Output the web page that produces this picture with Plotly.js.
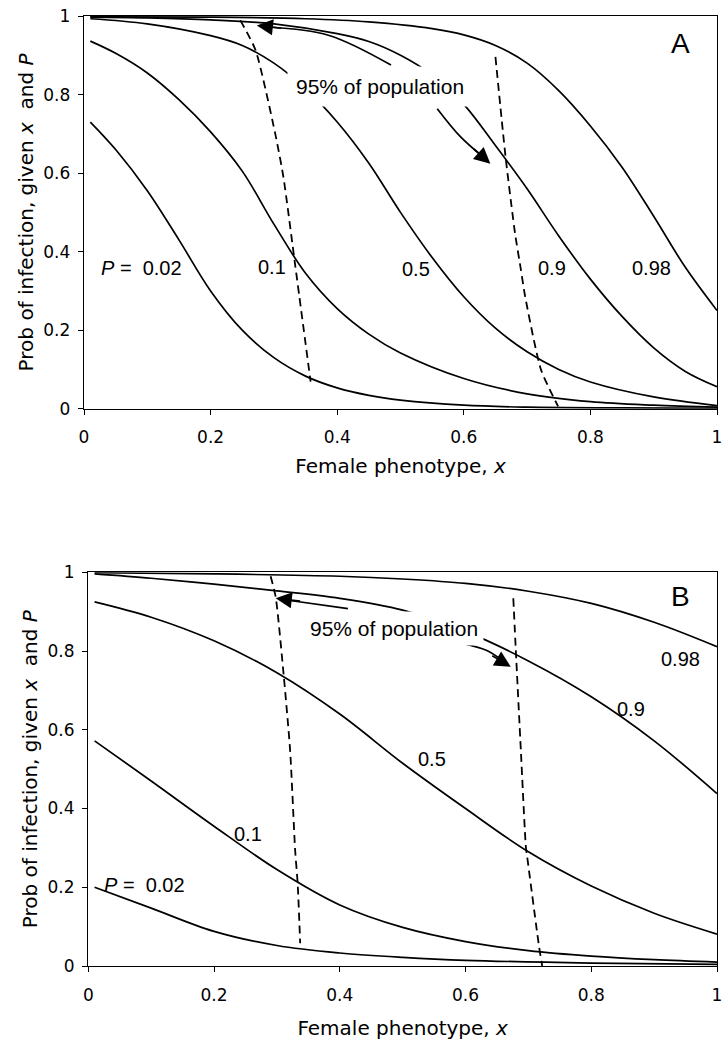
<!DOCTYPE html>
<html>
<head>
<meta charset="utf-8">
<script src="https://cdn.plot.ly/plotly-3.0.1.min.js"></script>
<style>html,body{margin:0;padding:0;background:#fff;}#chart{width:724px;height:1046px;}</style>
</head>
<body>
<div id="chart"></div>
<script>
// ---------- ticks and labels ----------
const tickVals = [0, 0.2, 0.4, 0.6, 0.8, 1];
const tickText = ["0", "0.2", "0.4", "0.6", "0.8", "1"];
const pLabels = ["0.02", "0.1", "0.5", "0.9", "0.98"];

// ---------- Panel A data ----------
const xA_002 = [0.01, 0.05, 0.1, 0.15, 0.2, 0.25, 0.3, 0.35, 0.4, 0.45, 0.5, 0.6, 0.7, 0.85, 1.0];
const yA_002 = [0.73, 0.66, 0.555, 0.43, 0.30, 0.20, 0.13, 0.083, 0.053, 0.034, 0.022, 0.009, 0.004, 0.002, 0.001];

const xA_01 = [0.01, 0.05, 0.1, 0.15, 0.2, 0.25, 0.3, 0.35, 0.4, 0.45, 0.5, 0.6, 0.7, 0.8, 0.9, 1.0];
const yA_01 = [0.936, 0.905, 0.855, 0.787, 0.705, 0.605, 0.47, 0.345, 0.255, 0.19, 0.142, 0.077, 0.038, 0.018, 0.009, 0.004];

const xA_05 = [0.01, 0.1, 0.2, 0.25, 0.3, 0.35, 0.4, 0.45, 0.5, 0.55, 0.6, 0.65, 0.7, 0.75, 0.8, 0.9, 1.0];
const yA_05 = [0.993, 0.98, 0.95, 0.925, 0.88, 0.815, 0.73, 0.625, 0.5, 0.385, 0.285, 0.205, 0.145, 0.10, 0.068, 0.03, 0.008];

const xA_09 = [0.01, 0.1, 0.2, 0.3, 0.4, 0.45, 0.5, 0.55, 0.6, 0.65, 0.7, 0.75, 0.8, 0.85, 0.9, 0.95, 1.0];
const yA_09 = [0.997, 0.995, 0.99, 0.98, 0.955, 0.935, 0.90, 0.85, 0.775, 0.67, 0.56, 0.44, 0.33, 0.235, 0.155, 0.095, 0.056];

const xA_098 = [0.01, 0.2, 0.35, 0.45, 0.55, 0.6, 0.65, 0.7, 0.75, 0.8, 0.85, 0.9, 0.95, 1.0];
const yA_098 = [0.998, 0.997, 0.993, 0.985, 0.968, 0.952, 0.925, 0.88, 0.81, 0.72, 0.615, 0.49, 0.36, 0.25];

// 95% boundaries (dashed)
const xA_lo = [0.247, 0.271, 0.302, 0.315, 0.334, 0.358];
const yA_lo = [0.989, 0.913, 0.701, 0.59, 0.361, 0.069];
const xA_hi = [0.650, 0.666, 0.681, 0.690, 0.697, 0.722, 0.749];
const yA_hi = [0.896, 0.641, 0.446, 0.356, 0.285, 0.099, 0.006];

// arrow shafts and tips
const xA_arrL = [0.485, 0.386, 0.292];
const yA_arrL = [0.875, 0.951, 0.972];
const tipA_L = [0.273, 0.976];
const xA_arrR = [0.558, 0.595, 0.629];
const yA_arrR = [0.764, 0.692, 0.643];
const tipA_R = [0.642, 0.624];

// label positions (A)
const labA_x = [0.091, 0.297, 0.524, 0.739, 0.896];
const labA_y = [0.358, 0.361, 0.357, 0.358, 0.358];

// ---------- Panel B data ----------
const xB_002 = [0.01, 0.1, 0.2, 0.3, 0.4, 0.5, 0.6, 0.8, 1.0];
const yB_002 = [0.20, 0.147, 0.088, 0.052, 0.033, 0.022, 0.0145, 0.0075, 0.004];

const xB_01 = [0.01, 0.1, 0.2, 0.3, 0.4, 0.5, 0.6, 0.7, 0.8, 0.9, 1.0];
const yB_01 = [0.572, 0.47, 0.355, 0.245, 0.155, 0.098, 0.062, 0.039, 0.025, 0.016, 0.010];

const xB_05 = [0.01, 0.1, 0.2, 0.3, 0.4, 0.5, 0.6, 0.7, 0.8, 0.9, 1.0];
const yB_05 = [0.925, 0.886, 0.826, 0.745, 0.64, 0.515, 0.40, 0.29, 0.203, 0.134, 0.081];

const xB_09 = [0.01, 0.1, 0.2, 0.3, 0.4, 0.5, 0.6, 0.7, 0.8, 0.9, 1.0];
const yB_09 = [0.996, 0.985, 0.97, 0.953, 0.934, 0.904, 0.85, 0.775, 0.684, 0.572, 0.438];

const xB_098 = [0.01, 0.2, 0.4, 0.5, 0.6, 0.7, 0.8, 0.9, 1.0];
const yB_098 = [0.999, 0.996, 0.99, 0.983, 0.972, 0.952, 0.921, 0.873, 0.811];

const xB_lo = [0.290, 0.298, 0.311, 0.321, 0.329, 0.333, 0.337];
const yB_lo = [0.99, 0.938, 0.735, 0.548, 0.294, 0.21, 0.058];
const xB_hi = [0.676, 0.680, 0.688, 0.696, 0.698, 0.717, 0.722];
const yB_hi = [0.934, 0.802, 0.548, 0.302, 0.278, 0.049, 0.0];

const xB_arrL = [0.413, 0.318];
const yB_arrL = [0.908, 0.929];
const tipB_L = [0.298, 0.934];
const xB_arrR = [0.596, 0.633, 0.657];
const yB_arrR = [0.819, 0.802, 0.778];
const tipB_R = [0.672, 0.76];

const labB_x = [0.090, 0.254, 0.546, 0.863, 0.942];
const labB_y = [0.205, 0.335, 0.527, 0.654, 0.781];

// ---------- build ----------
const LW = 1.7;
function curve(x, y, xa, ya) {
  return {x: x, y: y, xaxis: xa, yaxis: ya, type: 'scatter', mode: 'lines',
    line: {color: '#000', width: LW, shape: 'spline', smoothing: 1},
    hoverinfo: 'skip', showlegend: false};
}
function dashed(x, y, xa, ya) {
  return {x: x, y: y, xaxis: xa, yaxis: ya, type: 'scatter', mode: 'lines',
    line: {color: '#000', width: 1.8, dash: '8px,5px', shape: 'spline', smoothing: 0.6},
    hoverinfo: 'skip', showlegend: false};
}
const traces = [
  curve(xA_002, yA_002, 'x', 'y'), curve(xA_01, yA_01, 'x', 'y'), curve(xA_05, yA_05, 'x', 'y'),
  curve(xA_09, yA_09, 'x', 'y'), curve(xA_098, yA_098, 'x', 'y'),
  dashed(xA_lo, yA_lo, 'x', 'y'), dashed(xA_hi, yA_hi, 'x', 'y'),
  curve(xA_arrL, yA_arrL, 'x', 'y'), curve(xA_arrR, yA_arrR, 'x', 'y'),
  curve(xB_002, yB_002, 'x2', 'y2'), curve(xB_01, yB_01, 'x2', 'y2'), curve(xB_05, yB_05, 'x2', 'y2'),
  curve(xB_09, yB_09, 'x2', 'y2'), curve(xB_098, yB_098, 'x2', 'y2'),
  dashed(xB_lo, yB_lo, 'x2', 'y2'), dashed(xB_hi, yB_hi, 'x2', 'y2'),
  curve(xB_arrL, yB_arrL, 'x2', 'y2'), curve(xB_arrR, yB_arrR, 'x2', 'y2')
];

const labFont = {family: 'Liberation Sans, Arial, sans-serif', size: 20, color: '#000'};
const annotations = [];
function labelText(i) { return i === 0 ? '<i>P</i> =\u00a0 ' + pLabels[0] : pLabels[i]; }
for (let i = 0; i < pLabels.length; i++) {
  annotations.push({xref: 'x', yref: 'y', x: labA_x[i], y: labA_y[i], text: labelText(i),
    showarrow: false, font: labFont});
  annotations.push({xref: 'x2', yref: 'y2', x: labB_x[i], y: labB_y[i], text: labelText(i),
    showarrow: false, font: labFont});
}
// panel letters
annotations.push({xref: 'x', yref: 'y', x: 0.942, y: 0.93, text: 'A', showarrow: false,
  font: {family: 'Liberation Sans, Arial, sans-serif', size: 28, color: '#000'}});
annotations.push({xref: 'x2', yref: 'y2', x: 0.942, y: 0.938, text: 'B', showarrow: false,
  font: {family: 'Liberation Sans, Arial, sans-serif', size: 28, color: '#000'}});
// 95% labels
annotations.push({xref: 'x', yref: 'y', x: 0.467, y: 0.821, text: '95% of population', showarrow: false,
  bgcolor: '#fff', borderpad: 8, font: {family: 'Liberation Sans, Arial, sans-serif', size: 21, color: '#000'}});
annotations.push({xref: 'x2', yref: 'y2', x: 0.486, y: 0.858, text: '95% of population', showarrow: false,
  bgcolor: '#fff', borderpad: 5, font: {family: 'Liberation Sans, Arial, sans-serif', size: 21, color: '#000'}});
// arrowheads
function head(xr, yr, tip, ax, ay) {
  return {xref: xr, yref: yr, x: tip[0], y: tip[1], text: '', showarrow: true, arrowhead: 2,
    arrowsize: 1.9, arrowwidth: 1.7, arrowcolor: '#000', ax: ax, ay: ay, standoff: 0};
}
annotations.push(head('x', 'y', tipA_L, 26, 3));
annotations.push(head('x', 'y', tipA_R, -18, -16));
annotations.push(head('x2', 'y2', tipB_L, 26, 3));
annotations.push(head('x2', 'y2', tipB_R, -20, -12));

const tickFont = {family: 'DejaVu Sans, Verdana, sans-serif', size: 17, color: '#000'};
function xax(domain, anchor, standoff) {
  return {domain: domain, anchor: anchor, range: [0, 1], tickmode: 'array', tickvals: tickVals, ticktext: tickText,
    showline: true, linecolor: '#000', linewidth: 1.3, mirror: true,
    ticks: 'outside', ticklen: 5, tickwidth: 1, tickcolor: '#000', ticklabelstandoff: 8,
    ticklabeloverflow: 'allow',
    showgrid: false, zeroline: false, tickfont: tickFont, automargin: false,
    title: {text: 'Female phenotype, <i>x</i>', standoff: standoff,
      font: {family: 'DejaVu Sans, Verdana, sans-serif', size: 20, color: '#000'}}};
}
function yax(domain, anchor) {
  return {domain: domain, anchor: anchor, range: [0, 1], tickmode: 'array', tickvals: tickVals, ticktext: tickText,
    showline: true, linecolor: '#000', linewidth: 1.3, mirror: true,
    ticks: 'outside', ticklen: 5, tickwidth: 1, tickcolor: '#000', ticklabelstandoff: 4,
    ticklabeloverflow: 'allow',
    showgrid: false, zeroline: false, tickfont: tickFont, automargin: false,
    title: {text: 'Prob of infection, given <i>x</i>\u00a0 and <i>P</i>', standoff: 4,
      font: {family: 'DejaVu Sans, Verdana, sans-serif', size: 20, color: '#000'}}};
}

const layout = {
  width: 724, height: 1046,
  margin: {l: 84, r: 7, t: 16, b: 80},
  paper_bgcolor: '#fff', plot_bgcolor: '#fff',
  showlegend: false,
  xaxis: xax([0, 1], 'y', 12),
  yaxis: yax([0.5866, 1], 'x'),
  xaxis2: xax([0.0068, 1], 'y2', 17),
  yaxis2: yax([0, 0.4144], 'x2'),
  annotations: annotations
};

Plotly.newPlot('chart', traces, layout, {displayModeBar: false, staticPlot: true});
</script>
</body>
</html>
